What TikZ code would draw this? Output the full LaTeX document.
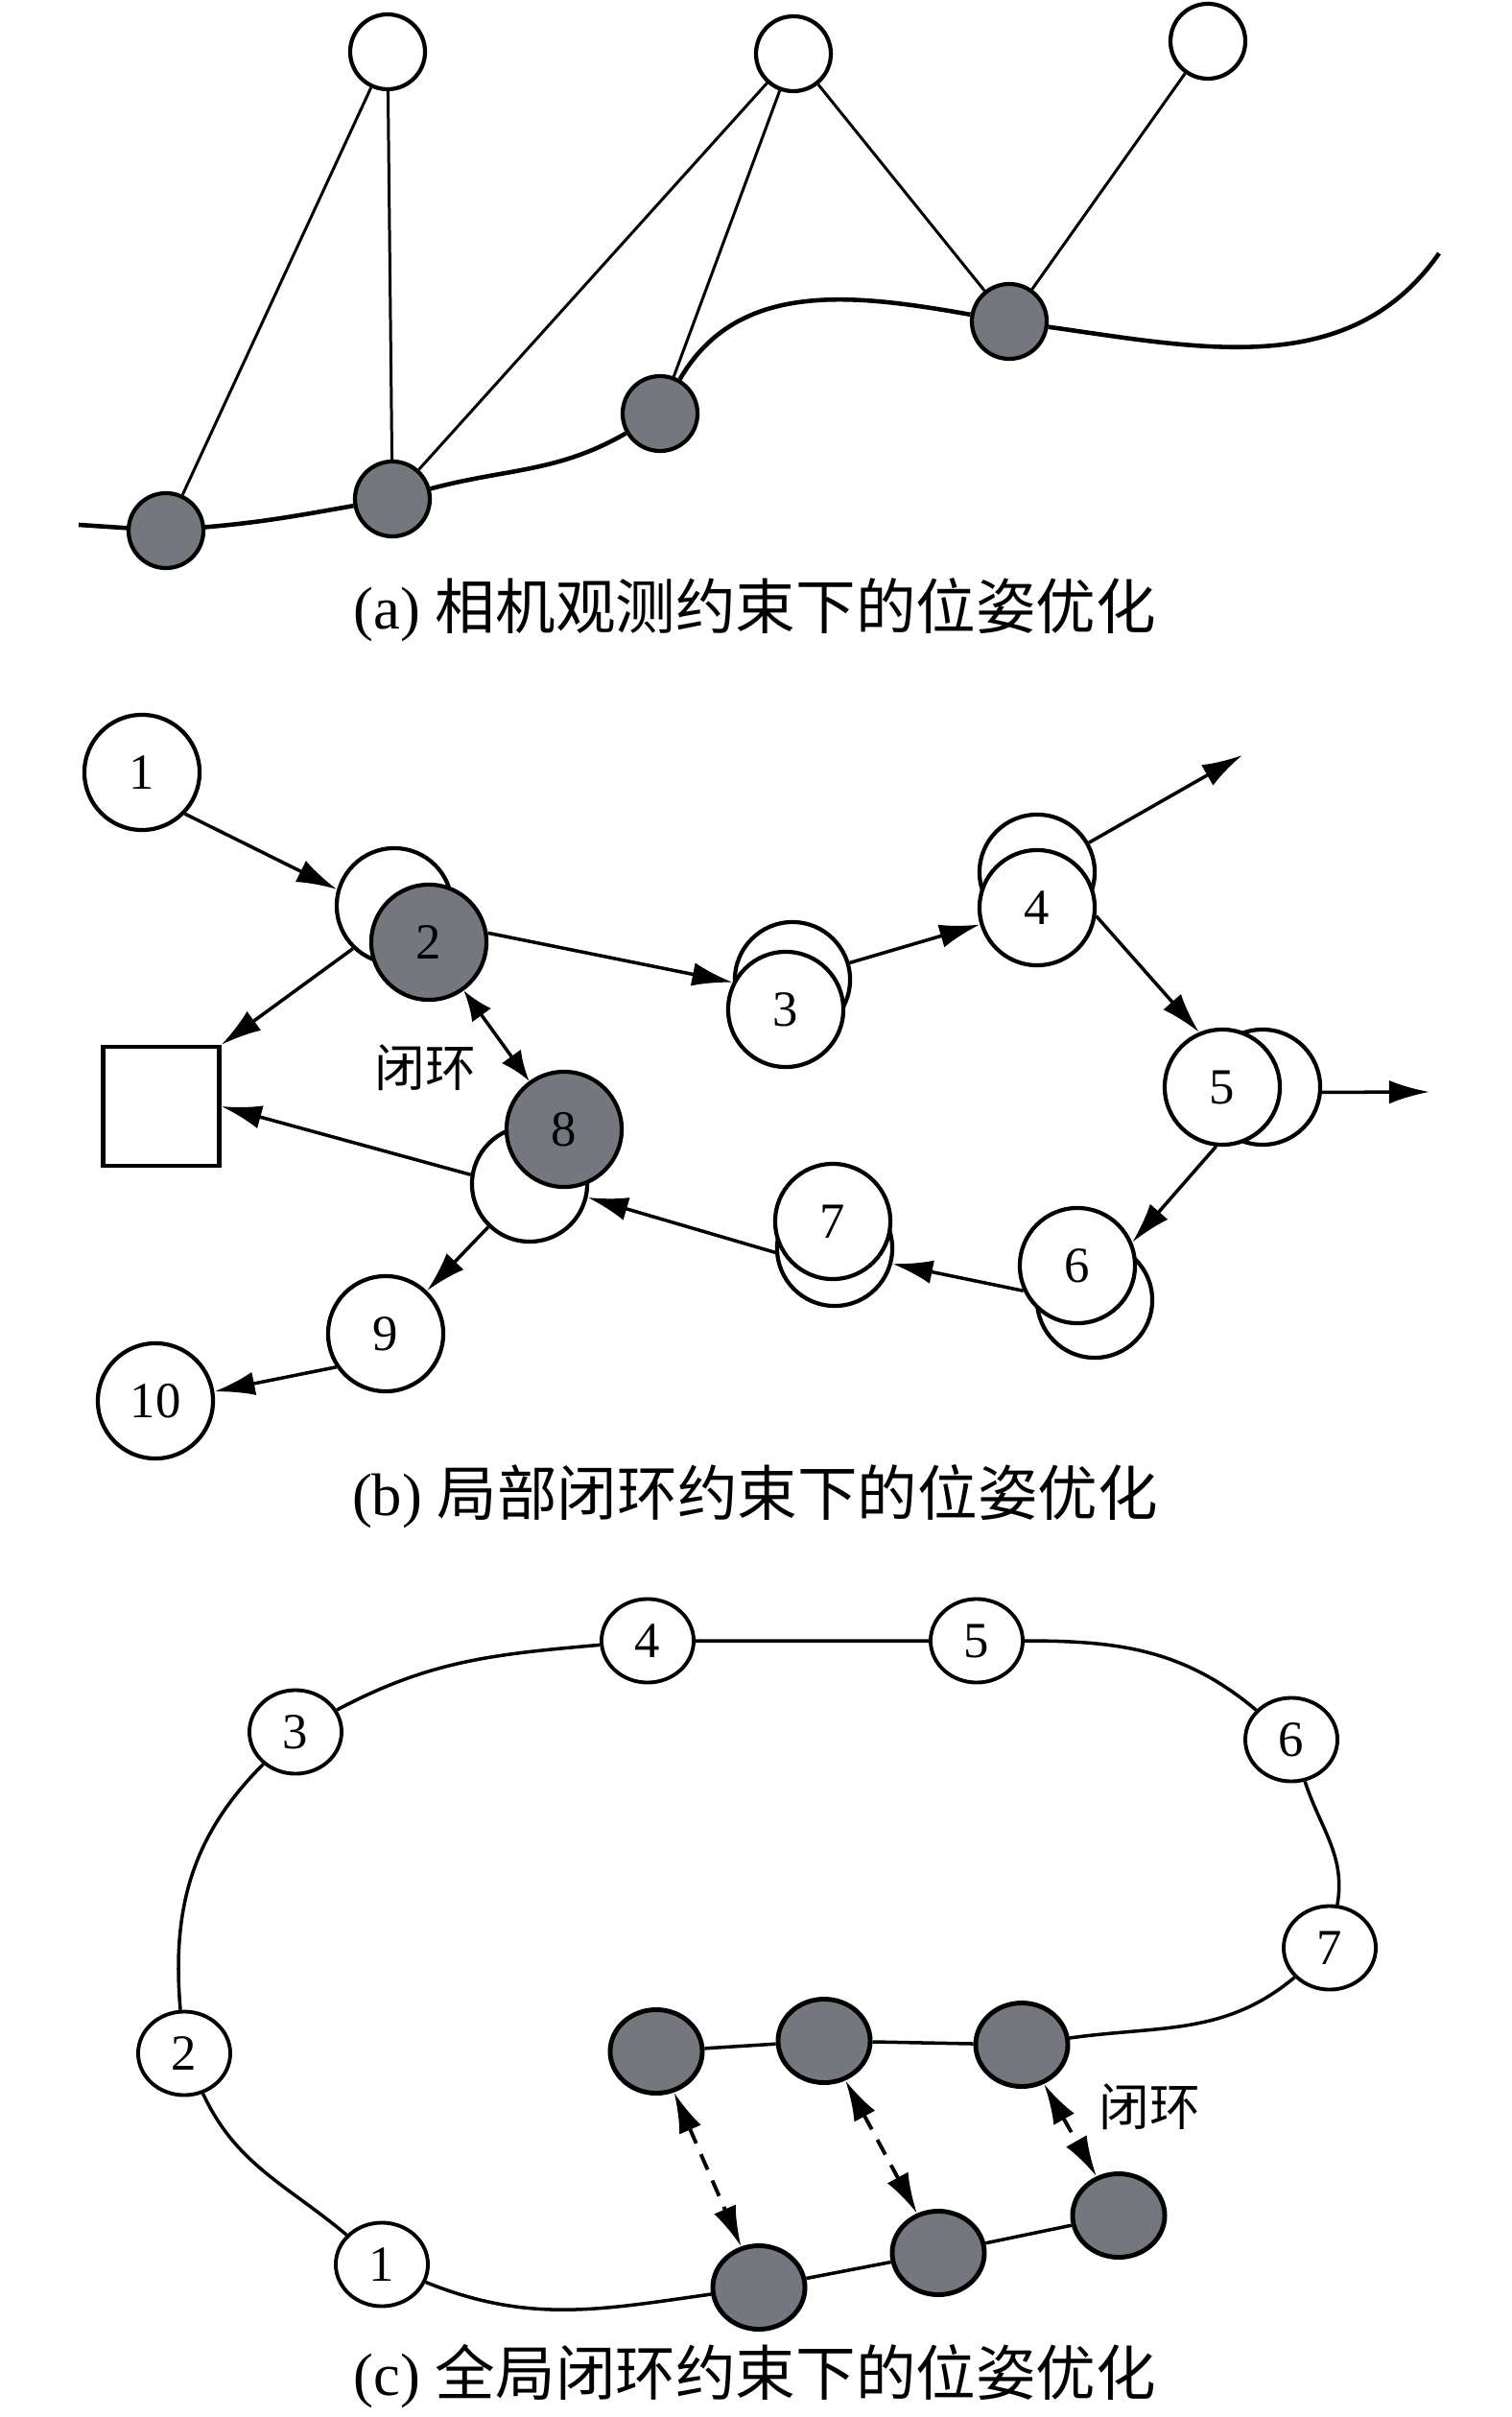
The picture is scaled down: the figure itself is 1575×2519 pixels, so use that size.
\documentclass[tikz,border=0pt]{standalone}
\usepackage{fontspec}
\setmainfont{Liberation Serif}
\newfontfamily\cjk{Noto Sans CJK SC}
\usepackage{tikz}
\usetikzlibrary{shapes,calc,arrows.meta}
\definecolor{posegray}{RGB}{117,119,126}

\tikzset{
  land/.style={circle, draw, line width=1.2pt, fill=white, minimum size=0.78cm, inner sep=0pt},
  landfill/.style={land, fill=posegray},
  pose/.style={circle, draw, line width=1.2pt, fill=white, minimum size=1.2cm, inner sep=0pt,
    font=\fontsize{15pt}{15pt}\selectfont},
  posefill/.style={pose, fill=posegray},
  keyf/.style={ellipse, draw, line width=1.1pt, fill=white, minimum width=0.96cm, minimum height=0.87cm,
    inner sep=0pt, font=\fontsize{15pt}{15pt}\selectfont},
  keyffill/.style={keyf, fill=posegray, line width=1.4pt},
  trackline/.style={line width=1.3pt},
  obsline/.style={line width=0.85pt},
  arrowline/.style={line width=1pt, -{Latex[length=12pt,width=7pt]}},
  loopline/.style={line width=1pt, {Latex[length=9pt,width=7pt]}-{Latex[length=9pt,width=7pt]}},
  dashloop/.style={line width=1.1pt, dash pattern=on 5pt off 3.5pt,
    {Latex[length=12pt,width=7pt]}-{Latex[length=12pt,width=7pt]}},
  captext/.style={font=\fontsize{17.8pt}{20pt}\selectfont},
  looptext/.style={font=\cjk\fontsize{15pt}{15pt}\selectfont}
}

\begin{document}
\begin{tikzpicture}[x=0.01cm,y=0.01cm]
    \useasboundingbox (0,0) rectangle (1575,-2519);
    % (a) Landmarks
    \node[land] (L1) at (404,-54) {};
    \node[land] (L2) at (827,-56) {};
    \node[land] (L3) at (1259,-43) {};
    % (a) Camera poses
    \node[landfill] (a1) at (173,-553) {};
    \node[landfill] (a2) at (409,-520) {};
    \node[landfill] (a3) at (688,-431) {};
    \node[landfill] (a4) at (1052,-335) {};
    \coordinate (aS) at (82,-547);
    \coordinate (aE) at (1500,-264);
    % Trajectory
    \draw[trackline] (aS) -- (a1) to[out=5,in=190] (a2) to[out=15,in=210] (a3)
        to[out=60,in=170] (a4) to[out=-8,in=235] (aE);
    % Observations
    \draw[obsline] (L1) -- (a1);
    \draw[obsline] (L1) -- (a2);
    \draw[obsline] (L2) -- (a2);
    \draw[obsline] (L2) -- (a3);
    \draw[obsline] (L2) -- (a4);
    \draw[obsline] (L3) -- (a4);
    \node[captext] (capA) at (787,-636) {(a) {\cjk 相机观测约束下的位姿优化}};

    % (b) Old poses (behind)
    \node[pose] (b2o) at (411,-944) {};
    \node[pose] (b3o) at (826,-1021) {};
    \node[pose] (b4o) at (1081,-909) {};
    \node[pose] (b5o) at (1316,-1133) {};
    \node[pose] (b6o) at (1141,-1355) {};
    \node[pose] (b7o) at (870,-1301) {};
    \node[pose] (b8o) at (552,-1234) {};
    % (b) Current poses
    \node[pose] (b1) at (148,-805) {1};
    \node[posefill] (b2) at (447,-982) {2};
    \node[pose] (b3) at (819,-1052) {3};
    \node[pose] (b4) at (1081,-946) {4};
    \node[pose] (b5) at (1274,-1133) {5};
    \node[pose] (b6) at (1123,-1319) {6};
    \node[pose] (b7) at (868,-1273) {7};
    \node[posefill] (b8) at (588,-1177) {8};
    \node[pose] (b9) at (402,-1390) {9};
    \node[pose] (b10) at (162,-1460) {10};
    \node[draw, line width=1.2pt, minimum width=1.21cm, minimum height=1.24cm] (sq) at (168,-1153) {};
    \coordinate (b4out) at (1295,-787);
    \coordinate (b5out) at (1490,-1138);
    % Arrows
    \draw[arrowline] (b1.-44) -- (b2o.164);
    \draw[arrowline] (b2o.226) -- (sq.north east);
    \draw[arrowline] (b2.9) -- (b3.153);
    \draw[arrowline] (b3o) -- (b4);
    \draw[arrowline] (b4o) -- (b4out);
    \draw[arrowline] (b4.-8) -- (b5.113);
    \draw[arrowline] (b5o.-5) -- (b5out);
    \draw[arrowline] (b5.-96) -- (b6.23);
    \draw[arrowline] (b6.205) -- (b7o.-15);
    \draw[arrowline] (b7o.184) -- (b8o.-13);
    \draw[arrowline] (b8o.171) -- (sq.east);
    \draw[arrowline] (b8o) -- (b9);
    \draw[arrowline] (b9.214) -- (b10.9);
    \draw[loopline] (b2) -- (b8);
    \node[looptext] (loopB) at (443,-1113) {闭环};
    \node[captext] (capB) at (787,-1560) {(b) {\cjk 局部闭环约束下的位姿优化}};

    % (c) Keyframes
    \node[keyf] (c1) at (398,-2360) {1};
    \node[keyf] (c2) at (192,-2140) {2};
    \node[keyf] (c3) at (308,-1805) {3};
    \node[keyf] (c4) at (675,-1710) {4};
    \node[keyf] (c5) at (1018,-1710) {5};
    \node[keyf] (c6) at (1346,-1813) {6};
    \node[keyf] (c7) at (1386,-2030) {7};
    \node[keyffill] (cA) at (684,-2138) {};
    \node[keyffill] (cB) at (859,-2127) {};
    \node[keyffill] (cC) at (1065,-2131) {};
    \node[keyffill] (cD) at (791,-2384) {};
    \node[keyffill] (cE) at (978,-2348) {};
    \node[keyffill] (cF) at (1166,-2309) {};
    % Loop trajectory
    \draw[line width=1pt] (cD) to[out=188,in=-22] (c1) to[out=140,in=-65] (c2)
        to[out=95,in=225] (c3) to[out=28,in=185] (c4) -- (c5)
        to[out=0,in=140] (c6) to[out=-72,in=80] (c7) to[out=220,in=8] (cC) -- (cB) -- (cA);
    \draw[line width=1pt] (cD) -- (cE) -- (cF);
    % Loop closures
    \draw[dashloop] (cA) -- (cD);
    \draw[dashloop] (cB) -- (cE);
    \draw[dashloop] (cC) -- (cF);
    \node[looptext] (loopC) at (1198,-2196) {闭环};
    \node[captext] (capC) at (787,-2476) {(c) {\cjk 全局闭环约束下的位姿优化}};
\end{tikzpicture}
\end{document}
